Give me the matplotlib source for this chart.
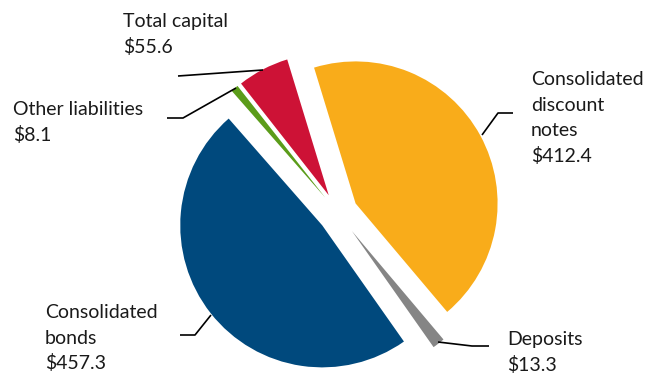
import matplotlib.pyplot as plt

# Balance sheet composition ($ billions)
categories = ['Consolidated discount notes', 'Deposits', 'Consolidated bonds',
              'Other liabilities', 'Total capital']
values = [412.4, 13.3, 457.3, 8.1, 55.6]
label_lines = [['Consolidated', 'discount', 'notes'], ['Deposits'],
               ['Consolidated', 'bonds'], ['Other liabilities'], ['Total capital']]
colors = ['#F9AC1A', '#858585', '#00497D', '#5B9C1A', '#CD1236']

W, H = 655, 373
cx, cy, R = 338, 213, 142   # pie centre and radius in pixels (y from top)

fig = plt.figure(figsize=(W / 100, H / 100), dpi=100)
fig.patch.set_facecolor('white')

ax = fig.add_axes([0, 0, 1, 1])
ax.pie(values, colors=colors, startangle=107, counterclock=False,
       explode=[0.141, 0.16, 0.141, 0.141, 0.141],
       wedgeprops=dict(linewidth=0))
ax.set_xlim(-cx / R, (W - cx) / R)
ax.set_ylim(-(H - cy) / R, cy / R)
ax.set_aspect('auto')
ax.axis('off')

# overlay in pixel coordinates for labels and leader lines
lab = fig.add_axes([0, 0, 1, 1])
lab.set_xlim(0, W)
lab.set_ylim(H, 0)
lab.axis('off')
lab.patch.set_alpha(0)

# (text x, first baseline y, leader polyline)
layout = [
    (531, 85, [(482, 135), (498, 113), (513, 113)]),
    (507, 345, [(438, 342), (472, 346), (489, 346)]),
    (45, 318, [(180, 335), (195, 335), (211, 315)]),
    (13, 115, [(167, 118), (183, 118), (236, 88)]),
    (123, 27, [(178, 76), (263, 70)]),
]
step = 25.7
for lines, val, (tx, ty, leader) in zip(label_lines, values, layout):
    for i, s in enumerate(lines + [f'${val:.1f}']):
        lab.text(tx, ty + i * step, s, fontsize=14, family='Lato',
                 color='#1a1a1a', va='baseline', ha='left')
    xs, ys = zip(*leader)
    lab.plot(xs, ys, color='black', lw=1.2, solid_capstyle='butt')

fig.savefig('out.png', dpi=100)
